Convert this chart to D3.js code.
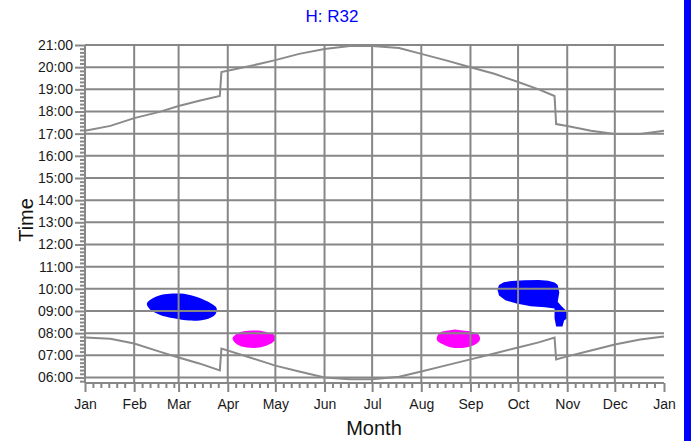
<!DOCTYPE html>
<html>
<head>
<meta charset="utf-8">
<script src="https://cdn.jsdelivr.net/npm/d3@7"></script>
<style>
  body { margin: 0; background: #fff; }
  text { font-family: "Liberation Sans", Arial, sans-serif; }
</style>
</head>
<body>
<script>
// tick labels
var monthLabels = ['Jan','Feb','Mar','Apr','May','Jun','Jul','Aug','Sep','Oct','Nov','Dec','Jan']
var hourTicks = [6,7,8,9,10,11,12,13,14,15,16,17,18,19,20,21]

// sunset line (date, time)
var sunset = [
  ['2021-01-01','17:08'],['2021-01-17','17:21'],['2021-02-01','17:42'],['2021-02-17','17:59'],
  ['2021-03-01','18:15'],['2021-03-14','18:29'],['2021-03-27','18:42'],['2021-03-28','19:47'],
  ['2021-04-15','20:03'],['2021-05-01','20:19'],['2021-05-16','20:36'],['2021-06-01','20:49'],
  ['2021-06-17','20:57'],['2021-07-01','20:57'],['2021-07-18','20:52'],['2021-08-01','20:36'],
  ['2021-08-16','20:19'],['2021-09-01','20:00'],['2021-09-16','19:42'],['2021-10-01','19:20'],
  ['2021-10-14','19:00'],['2021-10-24','18:42'],['2021-10-25','17:26'],['2021-11-01','17:21'],
  ['2021-11-16','17:08'],['2021-12-01','16:59'],['2021-12-17','16:59'],['2022-01-01','17:08']
]

// sunrise line (date, time)
var sunrise = [
  ['2021-01-01','07:48'],['2021-01-17','07:45'],['2021-02-01','07:32'],['2021-02-17','07:10'],
  ['2021-03-01','06:54'],['2021-03-14','06:38'],['2021-03-27','06:19'],['2021-03-28','07:18'],
  ['2021-04-15','06:54'],['2021-05-01','06:32'],['2021-05-16','06:16'],['2021-06-01','06:00'],
  ['2021-06-17','05:55'],['2021-07-01','05:55'],['2021-07-18','06:02'],['2021-08-01','06:16'],
  ['2021-08-16','06:32'],['2021-09-01','06:49'],['2021-09-16','07:05'],['2021-10-01','07:21'],
  ['2021-10-14','07:35'],['2021-10-24','07:48'],['2021-10-25','06:49'],['2021-11-01','06:57'],
  ['2021-11-16','07:13'],['2021-12-01','07:29'],['2021-12-17','07:43'],['2022-01-01','07:51']
]

// glare periods, outline points (date, time)
var glareMarch = [
  ['2021-02-09','09:20'],['2021-02-14','09:37'],['2021-02-20','09:45'],['2021-03-02','09:47'],
  ['2021-03-11','09:40'],['2021-03-19','09:26'],['2021-03-25','09:07'],['2021-03-24','08:50'],
  ['2021-03-18','08:37'],['2021-03-08','08:34'],['2021-02-26','08:40'],['2021-02-17','08:50'],
  ['2021-02-11','09:04']
]
var glareApril = [
  ['2021-04-04','07:46'],['2021-04-07','07:59'],['2021-04-11','08:05'],['2021-04-20','08:07'],
  ['2021-04-26','08:02'],['2021-04-30','07:56'],['2021-05-01','07:43'],['2021-04-27','07:29'],
  ['2021-04-21','07:21'],['2021-04-13','07:21'],['2021-04-07','07:29']
]
var glareAugust = [
  ['2021-08-11','07:51'],['2021-08-13','08:02'],['2021-08-18','08:07'],['2021-08-22','08:10'],
  ['2021-08-27','08:07'],['2021-09-02','08:04'],['2021-09-06','07:56'],['2021-09-07','07:43'],
  ['2021-09-04','07:29'],['2021-08-29','07:21'],['2021-08-20','07:21'],['2021-08-15','07:29'],
  ['2021-08-11','07:40']
]
var glareOctober = [
  ['2021-09-18','09:58'],['2021-09-19','10:10'],['2021-09-22','10:18'],['2021-09-27','10:21'],
  ['2021-10-05','10:23'],['2021-10-14','10:24'],['2021-10-20','10:22'],['2021-10-24','10:17'],
  ['2021-10-26','10:10'],['2021-10-27','09:50'],['2021-10-26','09:25'],['2021-10-28','09:15'],
  ['2021-10-31','09:02'],['2021-11-01','08:56'],['2021-11-01','08:40'],['2021-10-30','08:34'],
  ['2021-10-29','08:18'],['2021-10-25','08:18'],['2021-10-24','08:40'],['2021-10-24','09:07'],
  ['2021-10-18','09:10'],['2021-10-09','09:13'],['2021-09-30','09:20'],['2021-09-23','09:29'],
  ['2021-09-19','09:42']
]

var parseDay = d3.timeParse('%Y-%m-%d')
function hours(s) { var p = s.split(':'); return +p[0] + p[1] / 60 }

var W = 691, H = 441
var margin = {top: 45, right: 27, bottom: 58, left: 85}
var gridColor = '#878787'

var svg = d3.select('body').append('svg')
    .attr('width', W)
    .attr('height', H)

var x = d3.scaleTime()
    .domain([parseDay('2021-01-01'), parseDay('2022-01-01')])
    .range([margin.left, W - margin.right])
var y = d3.scaleLinear()
    .domain([5.75, 21])
    .range([H - margin.bottom, margin.top])

var line = d3.line()
    .x(function (d) { return x(parseDay(d[0])) })
    .y(function (d) { return y(hours(d[1])) })

// glare blobs, under the grid
var smooth = d3.line()
    .x(function (d) { return x(parseDay(d[0])) })
    .y(function (d) { return y(hours(d[1])) })
    .curve(d3.curveCatmullRomClosed.alpha(0.5))
var ragged = d3.line()
    .x(function (d) { return x(parseDay(d[0])) })
    .y(function (d) { return y(hours(d[1])) })
    .curve(d3.curveLinearClosed)
var blobs = [
  [smooth(glareMarch), '#0000ff'],
  [smooth(glareApril), '#ff00ff'],
  [smooth(glareAugust), '#ff00ff'],
  [ragged(glareOctober), '#0000ff']
]
svg.selectAll('path.blob')
    .data(blobs)
    .enter()
  .append('path')
    .attr('class', 'blob')
    .attr('d', function (d) { return d[0] })
    .attr('fill', function (d) { return d[1] })

// grid
var monthDates = d3.timeMonth.range(parseDay('2021-01-01'), parseDay('2022-01-02'))
svg.append('g').selectAll('line')
    .data(hourTicks)
    .enter()
  .append('line')
    .attr('x1', x.range()[0]).attr('x2', x.range()[1])
    .attr('y1', function (d) { return y(d) }).attr('y2', function (d) { return y(d) })
    .attr('stroke', gridColor).attr('stroke-width', 2)
svg.append('g').selectAll('line')
    .data(monthDates.slice(0, 12))
    .enter()
  .append('line')
    .attr('x1', function (d) { return x(d) }).attr('x2', function (d) { return x(d) })
    .attr('y1', y.range()[1]).attr('y2', y.range()[0])
    .attr('stroke', gridColor).attr('stroke-width', 2)
svg.append('line')
    .attr('x1', x.range()[0]).attr('x2', x.range()[1])
    .attr('y1', y.range()[0]).attr('y2', y.range()[0])
    .attr('stroke', gridColor).attr('stroke-width', 2)

// sunrise / sunset
svg.selectAll('path.sun')
    .data([sunset, sunrise])
    .enter()
  .append('path')
    .attr('class', 'sun')
    .attr('d', line)
    .attr('fill', 'none')
    .attr('stroke', '#8a8a8a')
    .attr('stroke-width', 2)

// y axis
var yAxis = d3.axisLeft(y)
    .tickValues(hourTicks)
    .tickSize(10)
    .tickPadding(2)
    .tickFormat(function (d) { return d3.format('02')(d) + ':00' })
var minorHours = d3.range(35, 127).filter(function (i) { return i % 6 }).map(function (i) { return i / 6 })
svg.append('g')
    .attr('transform', 'translate(' + margin.left + ',0)')
    .call(d3.axisLeft(y).tickValues(minorHours).tickSize(5).tickFormat(''))
svg.append('g')
    .attr('class', 'axis')
    .attr('transform', 'translate(' + margin.left + ',0)')
    .call(yAxis)

// x axis
var minorDays = []
monthDates.slice(0, 12).forEach(function (m) {
  [5, 10, 15, 20, 25].forEach(function (k) { minorDays.push(d3.timeDay.offset(m, k)) })
})
svg.append('g')
    .attr('transform', 'translate(0,' + y.range()[0] + ')')
    .call(d3.axisBottom(x).tickValues(minorDays).tickSize(5).tickFormat(''))
svg.append('g')
    .attr('class', 'axis')
    .attr('transform', 'translate(0,' + y.range()[0] + ')')
    .call(d3.axisBottom(x)
      .tickValues(monthDates)
      .tickSize(9)
      .tickPadding(7)
      .tickFormat(function (d, i) { return monthLabels[i] }))

svg.selectAll('.domain').remove()
svg.selectAll('.tick line').attr('stroke', gridColor).attr('stroke-width', 2)
svg.selectAll('.axis text')
    .attr('fill', '#1a1a1a')
    .style('font-size', '14px')
    .style('font-family', '"Liberation Sans", Arial, sans-serif')

// labels
svg.append('text')
    .attr('x', 332).attr('y', 22)
    .attr('text-anchor', 'middle')
    .attr('fill', '#0000ff')
    .style('font-size', '17px')
    .text('H: R32')
svg.append('text')
    .attr('transform', 'translate(33,220) rotate(-90)')
    .attr('text-anchor', 'middle')
    .attr('fill', '#111')
    .style('font-size', '20px')
    .text('Time')
svg.append('text')
    .attr('x', 374).attr('y', 435)
    .attr('text-anchor', 'middle')
    .attr('fill', '#111')
    .style('font-size', '20px')
    .text('Month')

// blue strip at right edge
svg.append('rect')
    .attr('x', 684).attr('y', 0)
    .attr('width', 7).attr('height', H)
    .attr('fill', '#0000ff')
</script>
</body>
</html>
